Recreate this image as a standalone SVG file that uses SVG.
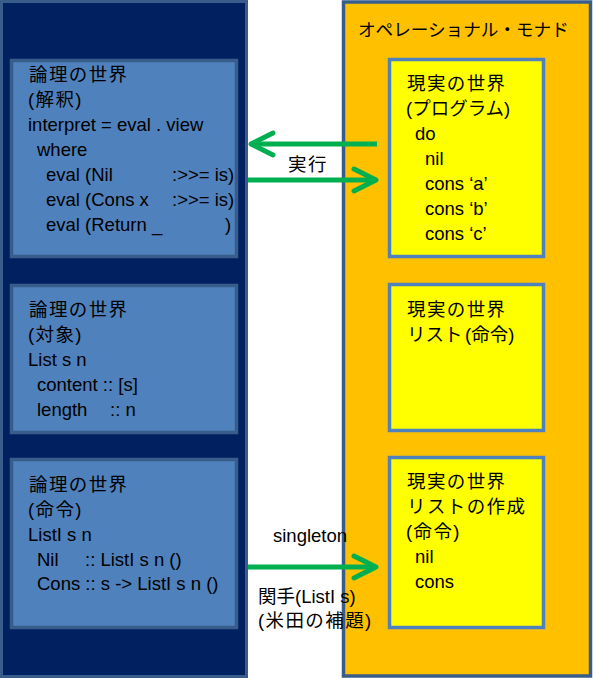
<svg xmlns="http://www.w3.org/2000/svg" width="593" height="678" viewBox="0 0 593 678">
<style>
  .t { font-family: "Liberation Sans", "Noto Sans CJK JP", sans-serif; font-size: 18.5px; fill: #000; }
  .j { letter-spacing: 1.4px; }
  .outerL { fill: #002060; stroke: #385D8A; stroke-width: 3; }
  .outerR { fill: #FFC000; stroke: #385D8A; stroke-width: 3.5; }
  .logic { fill: #4F81BD; stroke: #385D8A; stroke-width: 3.5; }
  .real { fill: #FFFF00; stroke: #4F81BD; stroke-width: 3.5; }
  .arrow { stroke: #00B050; stroke-width: 5; fill: none; }
</style>
<defs>
  <marker id="head" markerUnits="userSpaceOnUse" viewBox="-30 -16 34 32" refX="0" refY="0" markerWidth="34" markerHeight="32" orient="auto" overflow="visible">
    <path d="M-22,-11 L0,0 L-22,11" fill="none" stroke="#00B050" stroke-width="5" stroke-linecap="round" stroke-linejoin="round"/>
  </marker>
</defs>
<rect width="593" height="678" fill="#FFFFFF"/>

<g id="logic-world">
  <rect class="outerL" x="1.5" y="1.5" width="245" height="675"/>
</g>

<g id="operational-monad">
  <rect class="outerR" x="343.5" y="2" width="247" height="674"/>
  <text class="t" x="358" y="36" style="font-size:17.6px">オペレーショナル・モナド</text>
</g>

<g id="logic-interpret">
  <rect class="logic" x="11.5" y="60.5" width="225" height="196"/>
  <text class="t j" x="29" y="81">論理の世界</text>
  <text class="t j" x="28" y="106">(解釈)</text>
  <text class="t" x="28" y="131">interpret = eval . view</text>
  <text class="t" x="37" y="156">where</text>
  <text class="t" x="46" y="181">eval (Nil</text>
  <text class="t" x="172" y="181">:&gt;&gt;= is)</text>
  <text class="t" x="46" y="206">eval (Cons x</text>
  <text class="t" x="172" y="206">:&gt;&gt;= is)</text>
  <text class="t" x="46" y="231">eval (Return _</text>
  <text class="t" x="225" y="231">)</text>
</g>

<g id="logic-object">
  <rect class="logic" x="11.5" y="285.5" width="225" height="147"/>
  <text class="t j" x="29" y="316">論理の世界</text>
  <text class="t j" x="28" y="341">(対象)</text>
  <text class="t" x="28" y="366">List s n</text>
  <text class="t" x="37" y="391">content :: [s]</text>
  <text class="t" x="37" y="416">length</text>
  <text class="t" x="110" y="416">:: n</text>
</g>

<g id="logic-command">
  <rect class="logic" x="11.5" y="459.5" width="225" height="168"/>
  <text class="t j" x="29" y="491">論理の世界</text>
  <text class="t j" x="28" y="516">(命令)</text>
  <text class="t" x="28" y="541">ListI s n</text>
  <text class="t" x="37" y="566">Nil</text>
  <text class="t" x="85" y="566">:: ListI s n ()</text>
  <text class="t" x="37" y="590">Cons :: s -&gt; ListI s n ()</text>
</g>

<g id="real-program">
  <rect class="real" x="389.5" y="59.5" width="154" height="197"/>
  <text class="t j" x="407" y="90">現実の世界</text>
  <text class="t" x="406" y="115">(プログラム)</text>
  <text class="t" x="415" y="140">do</text>
  <text class="t" x="425" y="165">nil</text>
  <text class="t" x="425" y="190">cons  ‘a’</text>
  <text class="t" x="425" y="215">cons ‘b’</text>
  <text class="t" x="425" y="240">cons ‘c’</text>
</g>

<g id="real-list">
  <rect class="real" x="389.5" y="284.5" width="154" height="146"/>
  <text class="t j" x="407" y="316">現実の世界</text>
  <text class="t" x="407" y="341">リスト<tspan x="465">(命令)</tspan></text>
</g>

<g id="real-make">
  <rect class="real" x="389.5" y="457.5" width="154" height="170"/>
  <text class="t j" x="407" y="488">現実の世界</text>
  <text class="t j" x="407" y="513">リストの作成</text>
  <text class="t j" x="406" y="538">(命令)</text>
  <text class="t" x="415" y="563">nil</text>
  <text class="t" x="415" y="588">cons</text>
</g>

<g id="connectors">
  <line class="arrow" x1="377" y1="144" x2="251" y2="144" marker-end="url(#head)"/>
  <line class="arrow" x1="248" y1="180" x2="376" y2="180" marker-end="url(#head)"/>
  <text class="t j" x="288" y="171">実行</text>
  <line class="arrow" x1="248" y1="567" x2="376" y2="567" marker-end="url(#head)"/>
  <text class="t" x="273" y="542">singleton</text>
  <text class="t" x="258" y="603">関手(ListI s)</text>
  <text class="t j" x="258" y="627">(米田の補題)</text>
</g>
</svg>
